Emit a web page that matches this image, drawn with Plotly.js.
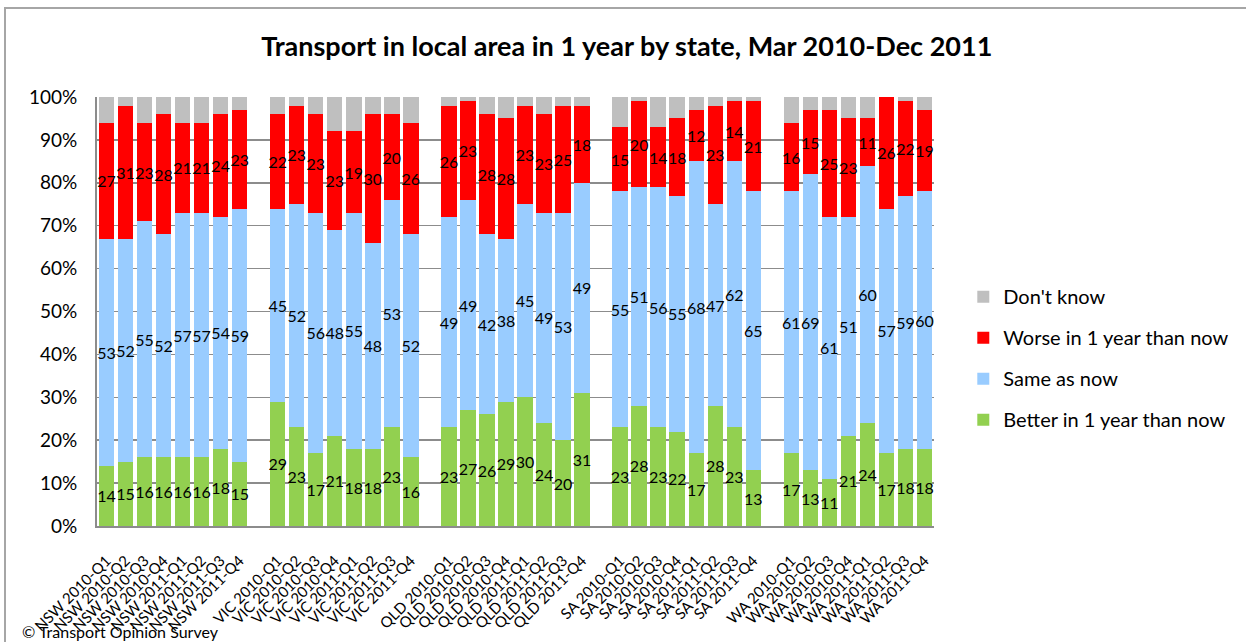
<!DOCTYPE html>
<html>
<head>
<meta charset="utf-8">
<script src="https://cdn.plot.ly/plotly-3.0.1.min.js"></script>
<style>
  html, body { margin: 0; padding: 0; background: #fff; }
  #wrap { position: relative; width: 1246px; height: 642px; overflow: hidden; }
  #chart { position: absolute; left: 0; top: 0; width: 1246px; height: 642px; }
  #frame { position: absolute; left: 4px; top: 7px; width: 1250px; height: 650px;
           border-top: 2px solid #a6a6a6; border-left: 2px solid #a6a6a6; pointer-events: none; }
</style>
</head>
<body>
<div id="wrap"><div id="chart"></div><div id="frame"></div></div>
<script>
// ---- data ----
const states = ["NSW", "VIC", "QLD", "SA", "WA"];
const quarters = ["2010-Q1", "2010-Q2", "2010-Q3", "2010-Q4", "2011-Q1", "2011-Q2", "2011-Q3", "2011-Q4"];

const betterNSW = [14, 15, 16, 16, 16, 16, 18, 15];
const sameNSW   = [53, 52, 55, 52, 57, 57, 54, 59];
const worseNSW  = [27, 31, 23, 28, 21, 21, 24, 23];

const betterVIC = [29, 23, 17, 21, 18, 18, 23, 16];
const sameVIC   = [45, 52, 56, 48, 55, 48, 53, 52];
const worseVIC  = [22, 23, 23, 23, 19, 30, 20, 26];

const betterQLD = [23, 27, 26, 29, 30, 24, 20, 31];
const sameQLD   = [49, 49, 42, 38, 45, 49, 53, 49];
const worseQLD  = [26, 23, 28, 28, 23, 23, 25, 18];

const betterSA  = [23, 28, 23, 22, 17, 28, 23, 13];
const sameSA    = [55, 51, 56, 55, 68, 47, 62, 65];
const worseSA   = [15, 20, 14, 18, 12, 23, 14, 21];

const betterWA  = [17, 13, 11, 21, 24, 17, 18, 18];
const sameWA    = [61, 69, 61, 51, 60, 57, 59, 60];
const worseWA   = [16, 15, 25, 23, 11, 26, 22, 19];

const seriesNames = ["Better in 1 year than now", "Same as now", "Worse in 1 year than now", "Don't know"];
const titleText = "Transport in local area in 1 year by state, Mar 2010-Dec 2011";
const sourceText = "\u00A9 Transport Opinion Survey";

// ---- build ----
const better = [betterNSW, betterVIC, betterQLD, betterSA, betterWA];
const same   = [sameNSW, sameVIC, sameQLD, sameSA, sameWA];
const worse  = [worseNSW, worseVIC, worseQLD, worseSA, worseWA];

const x = [], yB = [], yS = [], yW = [], yD = [];
states.forEach((st, si) => {
  if (si > 0) { // spacer category between states
    x.push(" ".repeat(si)); yB.push(null); yS.push(null); yW.push(null); yD.push(null);
  }
  quarters.forEach((q, qi) => {
    const b = better[si][qi], s = same[si][qi], w = worse[si][qi];
    x.push(st + " " + q);
    yB.push(b); yS.push(s); yW.push(w); yD.push(Math.max(0, 100 - b - s - w));
  });
});

const font = "Lato, 'Open Sans', sans-serif";
const colors = ["#92D050", "#99CCFF", "#FF0000", "#BFBFBF"];
const ys = [yB, yS, yW, yD];

const traces = ys.map((y, i) => ({
  type: "bar",
  name: seriesNames[i],
  x: x,
  y: y,
  legendgroup: "g" + i,
  legendrank: 4 - i,
  marker: { color: colors[i], line: { width: 0 } },
  text: i < 3 ? y.map(v => v == null ? "" : String(v)) : undefined,
  textposition: i < 3 ? "inside" : "none",
  insidetextanchor: "middle",
  textangle: 0,
  constraintext: "none",
  textfont: { family: font, size: 16, color: "#000" },
  hoverinfo: "x+y+name"
}));

const layout = {
  width: 1246, height: 642,
  margin: { l: 97, r: 307, t: 97, b: 116, pad: 0 },
  paper_bgcolor: "#fff", plot_bgcolor: "#fff",
  barmode: "stack",
  bargap: 0.19,
  title: { text: "<b>" + titleText + "</b>", font: { family: font, size: 27, color: "#000" },
           x: 0.503, xanchor: "center", y: 0.928, yanchor: "middle" },
  xaxis: {
    type: "category", tickangle: -45, automargin: false,
    tickmode: "array", tickvals: x, ticktext: x,
    tickfont: { family: font, size: 15, color: "#000" },
    ticks: "outside", ticklen: 18, tickcolor: "rgba(0,0,0,0)",
    showgrid: false, showline: true, linecolor: "#8c8c8c", linewidth: 2,
    fixedrange: true
  },
  yaxis: {
    range: [0, 100], dtick: 10, ticksuffix: "%", automargin: false,
    tickfont: { family: font, size: 19, color: "#000" },
    ticks: "outside", ticklen: 14, tickcolor: "rgba(0,0,0,0)",
    showgrid: true, gridcolor: "#8c8c8c", gridwidth: 1.5,
    showline: true, linecolor: "#8c8c8c", linewidth: 2,
    zeroline: false, fixedrange: true
  },
  legend: {
    x: 1.035, xanchor: "left", y: 0.58, yanchor: "top",
    traceorder: "grouped", tracegroupgap: 12,
    font: { family: font, size: 20, color: "#000" },
    bgcolor: "rgba(0,0,0,0)", itemwidth: 30
  },
  annotations: [{
    text: sourceText, xref: "paper", yref: "paper", x: -0.092, y: -0.247,
    xanchor: "left", yanchor: "middle", showarrow: false,
    font: { family: font, size: 16, color: "#000" }
  }],
  showlegend: true
};

Plotly.newPlot("chart", traces, layout, { displayModeBar: false, staticPlot: true });
</script>
</body>
</html>
